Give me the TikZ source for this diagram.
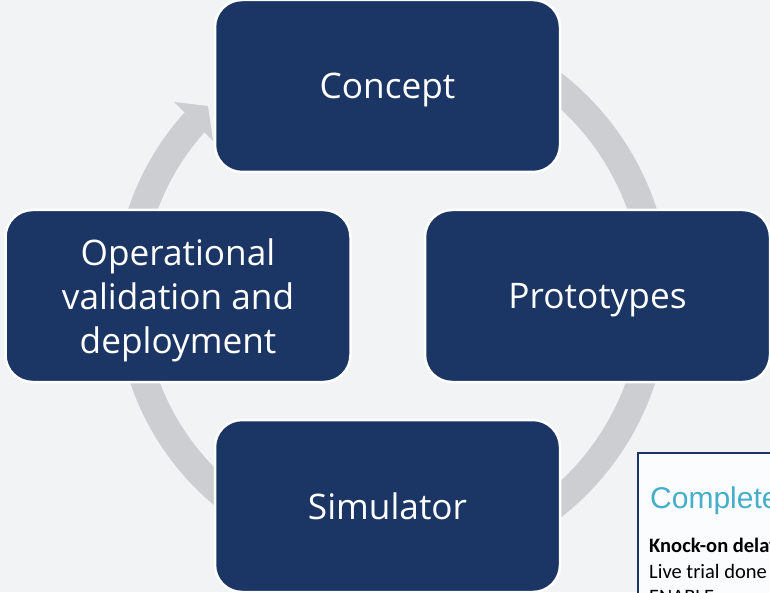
\documentclass[tikz,border=0pt]{standalone}
\usepackage{fontspec}
\setmainfont{Open Sans}
\newfontfamily\cardfont{Carlito}
\newfontfamily\headfont{Liberation Sans}
\definecolor{pagebg}{HTML}{F2F3F5}
\definecolor{ringgrey}{HTML}{CDCED2}
\definecolor{navy}{HTML}{1B3564}
\definecolor{teal}{HTML}{45AEC9}
\definecolor{cardbg}{HTML}{FBFCFE}
\tikzset{
  x=1pt,y=1pt,
  stagebox/.style={draw=white,line width=2.5pt,fill=navy,rounded corners=27pt,
    minimum width=345pt,minimum height=172pt,inner sep=0pt,align=center,
    text height=26pt,text depth=0pt,
    text=white,font=\fontsize{35.2}{43.5}\selectfont},
  ringarc/.style={draw=ringgrey,line width=28pt},
  cardline/.style={anchor=base west,inner sep=0pt,text=black,font=\cardfont\fontsize{20.5}{24}\selectfont},
}
\begin{document}
\begin{tikzpicture}
\useasboundingbox (0,0) rectangle (770,592);
\fill[pagebg] (0,0) rectangle (770,592);
\coordinate (ringc) at (388,296);
% ring segments
\path (ringc) ++(60:268.5) coordinate (ra);
\draw[ringarc] (ra) arc[start angle=60,end angle=5,radius=268.5];
\path (ringc) ++(-5:267) coordinate (rb);
\draw[ringarc] (rb) arc[start angle=-5,end angle=-60,radius=267];
\path (ringc) ++(240:258) coordinate (rc);
\draw[ringarc] (rc) arc[start angle=240,end angle=185,radius=258];
\path (ringc) ++(185:260) coordinate (rd);
\draw[ringarc] (rd) arc[start angle=185,end angle=138,radius=260];
% arrow head
\coordinate (headb1) at (174,490);
\coordinate (headtip) at (208,486);
\coordinate (headb2) at (213,451);
\fill[ringgrey] (headb1) -- (headtip) -- (headb2) -- cycle;
% stages
\node[stagebox] (concept) at (387.5,506) {Concept};
\node[stagebox] (prototypes) at (597.5,296) {Prototypes};
\node[stagebox] (simulator) at (387.5,86) {Simulator};
\node[stagebox,text height=114pt] (operational) at (178,296) {Operational\\validation and\\deployment};
% inset card, cut by the picture edge
\begin{scope}
\clip (0,0) rectangle (770,592);
\node[draw=navy,line width=2pt,fill=cardbg,anchor=north west,minimum width=200pt,minimum height=200pt,inner sep=0pt] (card) at (636.5,140.5) {};
\node[anchor=base west,inner sep=0pt,text=teal,font=\headfont\fontsize{30}{34}\selectfont] (cardhead) at (650,83.5) {Complete};
\node[cardline,font=\cardfont\bfseries\fontsize{20.5}{24}\selectfont] (cardl1) at (649,40) {Knock-on delay};
\node[cardline] (cardl2) at (649,14) {Live trial done};
\node[cardline] (cardl3) at (649,-11) {ENABLE};
\end{scope}
\end{tikzpicture}
\end{document}
